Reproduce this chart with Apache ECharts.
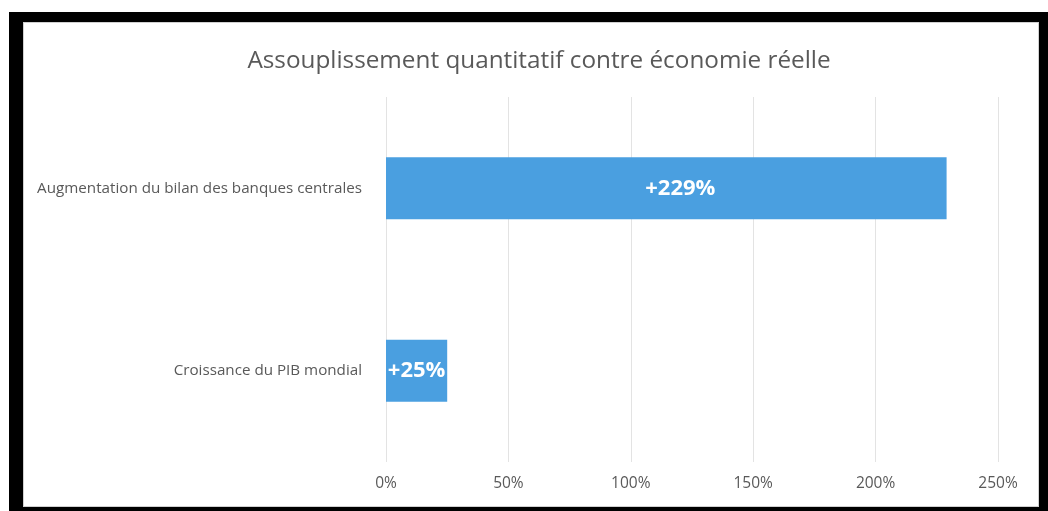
<!DOCTYPE html>
<html><head><meta charset="utf-8">
<script src="https://cdn.jsdelivr.net/npm/echarts@6/dist/echarts.min.js"></script>
<style>
html,body{margin:0;padding:0;background:#fff;width:1048px;height:511px;overflow:hidden;}
#frame{position:absolute;left:9px;top:12px;width:1039px;height:499px;background:#000;}
#inner{position:absolute;left:23px;top:22px;width:1016px;height:485px;background:#fff;border:1px solid #d0d0d0;box-sizing:border-box;}
#chart{position:absolute;left:0;top:0;width:1048px;height:511px;}
</style></head>
<body>
<div id="frame"></div><div id="inner"></div>
<div id="chart"></div>
<script>
const titleText = "Assouplissement quantitatif contre économie réelle";
const categories = ["Croissance du PIB mondial", "Augmentation du bilan des banques centrales"];
const values = [25, 229];
const valueLabels = ["+25%", "+229%"];
const xTicks = [0, 50, 100, 150, 200, 250];
const labelOffsets = [[0, 0], [14, 0]];

const chart = echarts.init(document.getElementById('chart'), null, {renderer:'canvas'});
chart.setOption({
  backgroundColor: 'transparent',
  animation: false,
  title: {
    text: titleText, left: 534, top: 44, textAlign: 'center',
    textStyle: {fontFamily: 'Open Sans', fontWeight: 'normal', fontSize: 24.3, color: '#595959'}
  },
  grid: {left: 386, right: 50, top: 97, bottom: 49, containLabel: false},
  xAxis: {
    type: 'value', min: xTicks[0], max: xTicks[xTicks.length-1], interval: 50,
    axisLine: {show: false}, axisTick: {show: false},
    axisLabel: {formatter: v => v + '%', color: '#595959', fontFamily: 'Open Sans', fontSize: 15.5, margin: 14},
    splitLine: {lineStyle: {color: '#e3e3e3', width: 1}}
  },
  yAxis: {
    type: 'category', data: categories,
    axisLine: {show: false}, axisTick: {show: false},
    axisLabel: {color: '#595959', fontFamily: 'Open Sans', fontSize: 15.2, margin: 24}
  },
  series: [{
    type: 'bar',
    data: values.map((v, i) => ({value: v, label: {offset: labelOffsets[i]}})),
    barWidth: '34%',
    itemStyle: {color: '#4a9fe0'},
    label: {
      show: true, position: 'inside', color: '#fff', fontWeight: 'bold',
      fontFamily: 'Open Sans',
      formatter: p => valueLabels[p.dataIndex],
      fontSize: 22
    }
  }]
});
</script>
</body></html>
